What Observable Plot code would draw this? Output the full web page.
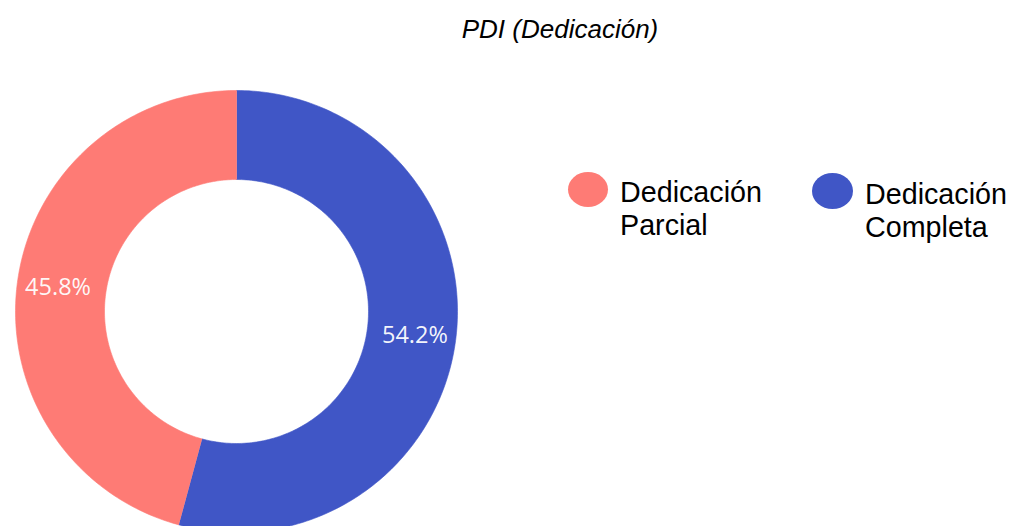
<!DOCTYPE html>
<html><head><meta charset="utf-8">
<script src="https://cdn.jsdelivr.net/npm/d3@7"></script>
<script src="https://cdn.jsdelivr.net/npm/@observablehq/plot@0.6"></script>
<style>
body{margin:0;background:#fff;}
#wrap{position:relative;width:1011px;height:526px;overflow:hidden;font-family:"Liberation Sans",Arial,sans-serif;color:#000;}
#chart{position:absolute;left:0;top:0;}
#title{position:absolute;left:360px;width:400px;top:16px;text-align:center;font-size:26px;line-height:26px;font-style:italic;}
.leg{position:absolute;font-size:28.7px;line-height:33px;}
.sw{position:absolute;border-radius:50%;}
</style></head>
<body>
<div id="wrap">
  <div id="chart"></div>
  <div id="title">PDI (Dedicación)</div>
  <div id="legend"></div>
</div>
<script>
// Data
const categories = ["Dedicación Completa", "Dedicación Parcial"];
const values = [54.2, 45.8];
const labels = ["54.2%", "45.8%"];
const colors = ["#4056C6", "#FE7B75"];
const legendOrder = ["Dedicación Parcial", "Dedicación Completa"];

// Geometry (unit circle data space)
const rOuter = 1, rInner = 132 / 221, rLabel = 180 / 221;
const total = d3.sum(values);
const slices = [];
let acc = 0;
categories.forEach((c, i) => {
  const a0 = acc / total * 2 * Math.PI;
  acc += values[i];
  const a1 = acc / total * 2 * Math.PI;
  slices.push({cat: c, a0, a1, label: labels[i]});
});
const pts = [];
const N = 180;
for (const s of slices) {
  for (let k = 0; k <= N; k++) {
    const a = s.a0 + (s.a1 - s.a0) * k / N;
    pts.push({cat: s.cat, x: rOuter * Math.sin(a), y: rOuter * Math.cos(a)});
  }
  for (let k = N; k >= 0; k--) {
    const a = s.a0 + (s.a1 - s.a0) * k / N;
    pts.push({cat: s.cat, x: rInner * Math.sin(a), y: rInner * Math.cos(a)});
  }
}
const labelPts = slices.map(s => {
  const m = (s.a0 + s.a1) / 2;
  return {text: s.label, x: rLabel * Math.sin(m), y: rLabel * Math.cos(m)};
});

const plot = Plot.plot({
  width: 1011, height: 526, margin: 0,
  x: {domain: [-236 / 221, 775 / 221], axis: null},
  y: {domain: [-215 / 221, 311 / 221], axis: null},
  color: {domain: categories, range: colors},
  marks: [
    Plot.line(pts, {x: "x", y: "y", z: "cat", fill: "cat", stroke: "cat", strokeWidth: 0.6, curve: "linear"}),
    Plot.text(labelPts, {x: "x", y: "y", text: "text", fill: "#ffffff", fillOpacity: 0.95, fontSize: 23.5, fontFamily: "Open Sans, sans-serif"})
  ]
});
document.getElementById("chart").appendChild(plot);

// Legend
const legPos = {
  "Dedicación Parcial": {sx: 568, sy: 172, w: 40, h: 35, tx: 620, ty: 176},
  "Dedicación Completa": {sx: 812, sy: 173, w: 41, h: 36, tx: 865, ty: 178}
};
const leg = document.getElementById("legend");
legendOrder.forEach(c => {
  const p = legPos[c];
  const col = colors[categories.indexOf(c)];
  const sw = document.createElement("div");
  sw.className = "sw";
  Object.assign(sw.style, {left: p.sx + "px", top: p.sy + "px", width: p.w + "px", height: p.h + "px", background: col});
  leg.appendChild(sw);
  const t = document.createElement("div");
  t.className = "leg";
  Object.assign(t.style, {left: p.tx + "px", top: p.ty + "px"});
  const parts = c.split(" ");
  t.innerHTML = parts[0] + "<br>" + parts.slice(1).join(" ");
  leg.appendChild(t);
});
</script>
</body></html>
